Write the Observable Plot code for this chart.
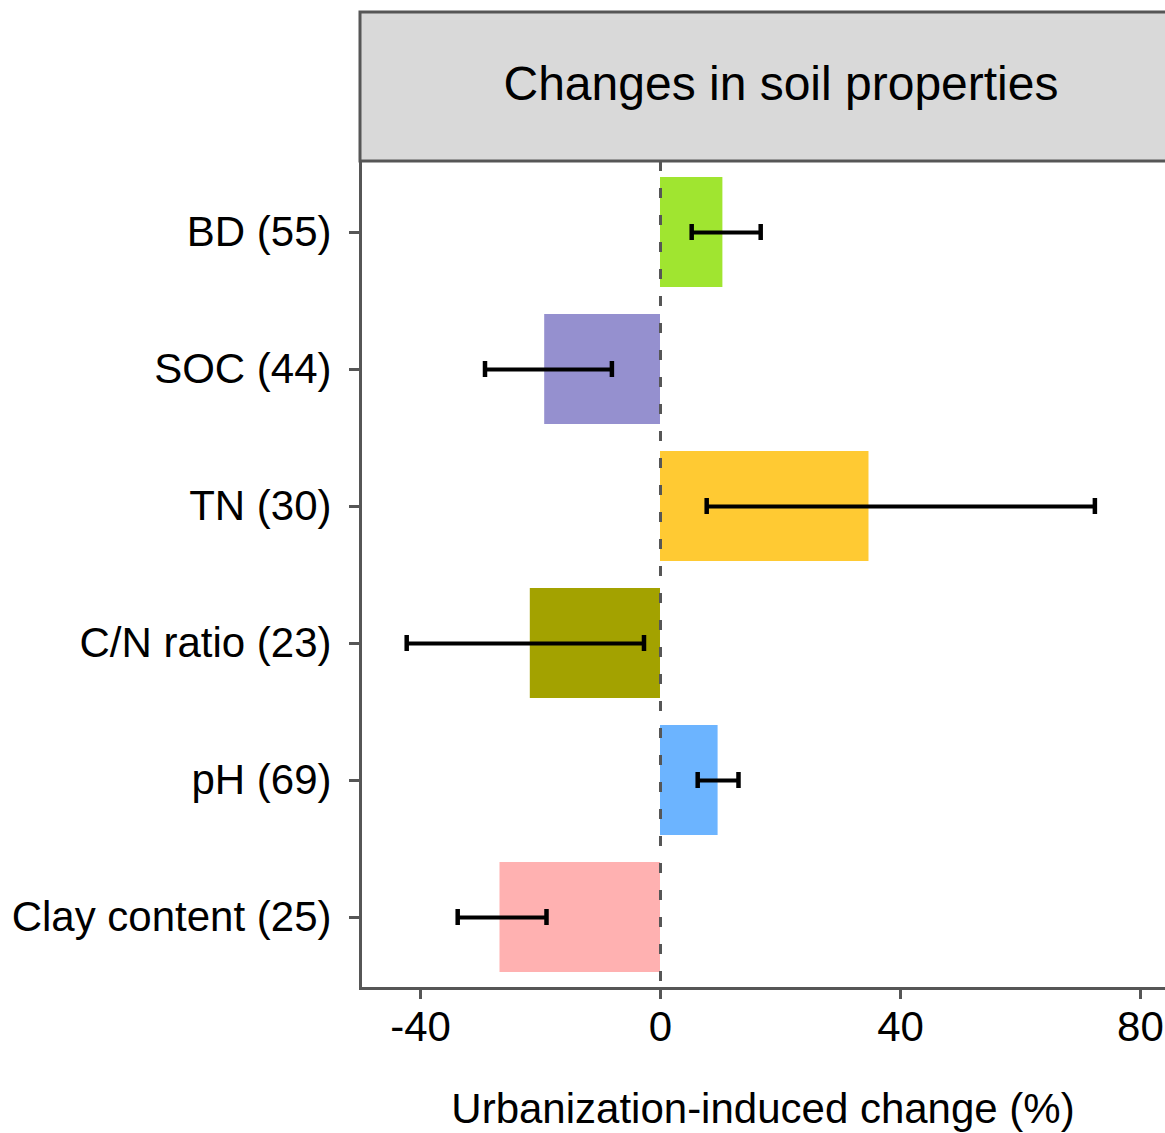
<!DOCTYPE html>
<html><head><meta charset="utf-8">
<script src="https://cdn.jsdelivr.net/npm/d3@7"></script>
<script src="https://cdn.jsdelivr.net/npm/@observablehq/plot@0.6"></script>
<style>body{margin:0;background:#fff;}</style>
</head><body><div id="chart"></div>
<script>
const categories = ["BD (55)", "SOC (44)", "TN (30)", "C/N ratio (23)", "pH (69)", "Clay content (25)"];
const means = [10.4, -19.3, 34.75, -21.7, 9.6, -26.75];
const lower = [5.2, -29.25, 7.7, -42.3, 6.2, -33.8];
const upper = [16.7, -8.1, 72.4, -2.75, 13.0, -19.0];
const colors = ["#A0E530", "#9590CF", "#FFCA33", "#A3A200", "#6CB4FF", "#FFB1B1"];
const xTicks = [-40, 0, 40, 80];
const xDomain = [-50, 84.17];
const stripTitle = "Changes in soil properties";
const xLabel = "Urbanization-induced change (%)";

const data = categories.map((c, i) => ({category: c, mean: means[i], lo: lower[i], hi: upper[i]}));
const font = "'Liberation Sans', Arial, Helvetica, sans-serif";
const axisColor = "#565656";
const W = 1165, H = 1133, mTop = 161, mBottom = 145, mLeft = 360, mRight = 0;

const chart = Plot.plot({
  width: W, height: H,
  marginTop: mTop, marginBottom: mBottom, marginLeft: mLeft, marginRight: mRight,
  style: {fontFamily: font, background: "#fff", color: "#000"},
  x: {domain: xDomain},
  y: {domain: categories, paddingInner: 0.2, paddingOuter: 0.1},
  color: {domain: categories, range: colors},
  marks: [
    Plot.barX(data, {y: "category", x1: 0, x2: "mean", fill: "category"}),
    Plot.ruleX([0], {stroke: axisColor, strokeWidth: 3, strokeDasharray: "10,17"}),
    Plot.ruleY(data, {y: "category", x1: "lo", x2: "hi", stroke: "#000", strokeWidth: 4}),
    Plot.tickX(data, {y: "category", x: "lo", stroke: "#000", strokeWidth: 4.5, insetTop: 47, insetBottom: 47}),
    Plot.tickX(data, {y: "category", x: "hi", stroke: "#000", strokeWidth: 4.5, insetTop: 47, insetBottom: 47}),
    Plot.frame({anchor: "left", stroke: axisColor, strokeWidth: 3}),
    Plot.frame({anchor: "bottom", stroke: axisColor, strokeWidth: 3}),
    Plot.axisX({ticks: xTicks, tickFormat: d => String(d), tickSize: 11, tickPadding: 12, fontSize: 42,
      stroke: axisColor, strokeWidth: 3,
      label: xLabel, labelAnchor: "center", labelOffset: 134, labelArrow: "none"}),
    Plot.axisY({tickSize: 11, tickPadding: 18, fontSize: 42, stroke: axisColor, strokeWidth: 3, label: null})
  ]
});

// facet strip header above the panel
const svg = d3.select(chart);
const g = svg.insert("g", ":first-child");
g.append("rect")
  .attr("x", mLeft).attr("y", 12)
  .attr("width", W - mLeft + 20).attr("height", mTop - 12)
  .attr("fill", "#d9d9d9").attr("stroke", axisColor).attr("stroke-width", 3);
g.append("text")
  .attr("x", 781).attr("y", 100)
  .attr("text-anchor", "middle")
  .attr("font-size", 48).attr("font-family", font).attr("fill", "#000")
  .text(stripTitle);

document.getElementById("chart").appendChild(chart);
</script>
</body></html>
